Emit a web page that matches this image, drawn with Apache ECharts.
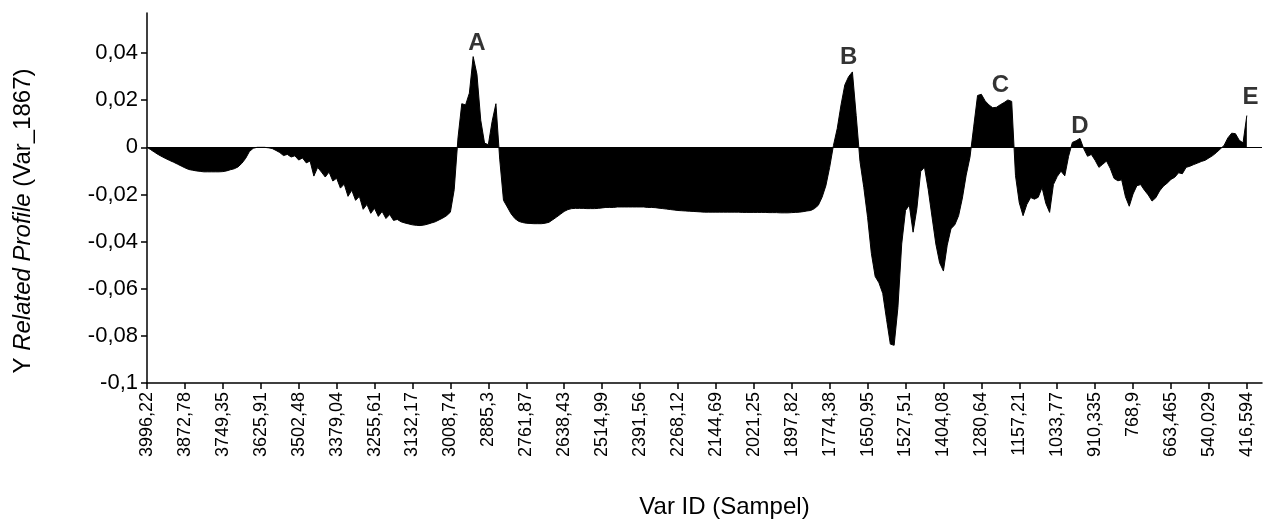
<!DOCTYPE html>
<html>
<head>
<meta charset="utf-8">
<script src="https://cdn.jsdelivr.net/npm/echarts@6/dist/echarts.min.js"></script>
<style>
  html, body { margin: 0; padding: 0; background: #fff; }
  #chart { width: 1266px; height: 519px; }
</style>
</head>
<body>
<div id="chart"></div>
<script>
// Tick labels of the x axis (one every 10 samples)
const xTickLabels = ['3996,22','3872,78','3749,35','3625,91','3502,48','3379,04','3255,61','3132,17','3008,74','2885,3',
  '2761,87','2638,43','2514,99','2391,56','2268,12','2144,69','2021,25','1897,82','1774,38','1650,95',
  '1527,51','1404,08','1280,64','1157,21','1033,77','910,335','768,9','663,465','540,029','416,594'];
const samplesPerTick = 10;

// Y related profile values, 10 samples per tick interval
const profile = [
  // 3996,22 -> 3625,91
  0, -0.001, -0.0021, -0.0031, -0.004, -0.0048, -0.0056, -0.0063, -0.0071, -0.0079,
  -0.0087, -0.0094, -0.0097, -0.01, -0.0102, -0.0104, -0.0104, -0.0104, -0.0104, -0.0104,
  -0.0103, -0.01, -0.0095, -0.0091, -0.0083, -0.0068, -0.0047, -0.0018, -0.0004, 0,
  // 3625,91 -> 3008,74
  0, 0, -0.0002, -0.0005, -0.0013, -0.0022, -0.0035, -0.003, -0.0041, -0.0036,
  -0.0054, -0.0045, -0.0066, -0.0058, -0.0122, -0.0085, -0.0105, -0.0126, -0.0105, -0.0143,
  -0.0131, -0.0173, -0.0156, -0.0208, -0.0182, -0.0225, -0.0208, -0.0263, -0.0242, -0.028,
  -0.0259, -0.0293, -0.0272, -0.0302, -0.0285, -0.031, -0.0306, -0.0316, -0.0321, -0.0325,
  -0.0329, -0.0331, -0.0332, -0.033, -0.0326, -0.0321, -0.0316, -0.0308, -0.03, -0.029,
  // 3008,74 -> 2761,87 (peak A)
  -0.0275, -0.018, 0.004, 0.0185, 0.018, 0.023, 0.0385, 0.031, 0.0115, 0.0018,
  0.0011, 0.011, 0.0185, -0.005, -0.0225, -0.0253, -0.0282, -0.0302, -0.0314, -0.0319,
  // 2761,87 -> 1774,38 (plateau)
  -0.0322, -0.0323, -0.0324, -0.0324, -0.0324, -0.0322, -0.0318, -0.0307, -0.0296, -0.0284,
  -0.0272, -0.0264, -0.026, -0.0259, -0.0259, -0.0259, -0.026, -0.026, -0.026, -0.0259,
  -0.0257, -0.0255, -0.0255, -0.0255, -0.0253, -0.0253, -0.0253, -0.0253, -0.0253, -0.0253,
  -0.0253, -0.0253, -0.0255, -0.0255, -0.0256, -0.0258, -0.026, -0.0262, -0.0264, -0.0266,
  -0.0268, -0.0269, -0.027, -0.0271, -0.0272, -0.0273, -0.0274, -0.0275, -0.0275, -0.0275,
  -0.0275, -0.0275, -0.0275, -0.0275, -0.0275, -0.0275, -0.0275, -0.0276, -0.0276, -0.0276,
  -0.0276, -0.0276, -0.0276, -0.0276, -0.0277, -0.0277, -0.0277, -0.0278, -0.0278, -0.0278,
  -0.0277, -0.0276, -0.0275, -0.0273, -0.027, -0.0268, -0.026, -0.0246, -0.0212, -0.0163,
  // 1774,38 -> 1280,64 (peak B and deep trough)
  -0.0085, 0.0008, 0.008, 0.018, 0.0265, 0.030, 0.032, 0.0135, -0.006, -0.017,
  -0.0297, -0.045, -0.0548, -0.0575, -0.062, -0.073, -0.0835, -0.084, -0.068, -0.041,
  -0.0268, -0.0245, -0.036, -0.026, -0.0103, -0.0084, -0.018, -0.0296, -0.041, -0.049,
  -0.0525, -0.0415, -0.0345, -0.0329, -0.029, -0.0215, -0.0118, -0.0042, 0.009, 0.022,
  // 1280,64 -> 910,335 (peak C, peak D)
  0.0225, 0.0197, 0.018, 0.0168, 0.017, 0.0181, 0.019, 0.0201, 0.0195, -0.012,
  -0.0235, -0.029, -0.0242, -0.0213, -0.022, -0.0212, -0.017, -0.0238, -0.0276, -0.0158,
  -0.0124, -0.0101, -0.0121, -0.0038, 0.0021, 0.0028, 0.0038, -0.0006, -0.0038, -0.003,
  // 910,335 -> 416,594 (peak E)
  -0.0055, -0.0085, -0.0072, -0.0058, -0.009, -0.0132, -0.0142, -0.0138, -0.021, -0.025,
  -0.0198, -0.0163, -0.0158, -0.0182, -0.0202, -0.0228, -0.0214, -0.0185, -0.0165, -0.0152,
  -0.0136, -0.0127, -0.0108, -0.0112, -0.0085, -0.008, -0.0073, -0.0067, -0.006, -0.0055,
  -0.0045, -0.0035, -0.0022, -0.0007, 0.0008, 0.004, 0.006, 0.0058, 0.003, 0.0019,
  0.0135,
  // axis continues a little past the last tick
  null, null, null, null
];

// Y axis ticks
const yTicks = [-0.1, -0.08, -0.06, -0.04, -0.02, 0, 0.02, 0.04];
const yMin = -0.1, yMax = 0.057;

// Peak annotations: name, sample index, label centre value
const peakNames = ['A', 'B', 'C', 'D', 'E'];
const peakIndex = [87, 185, 225, 246, 291];
const peakLabelY = [0.0439, 0.0381, 0.0261, 0.0091, 0.0212];

const categories = profile.map((_, i) => String(i));
const lastTickIdx = (xTickLabels.length - 1) * samplesPerTick;
const isTick = (i) => i % samplesPerTick === 0 && i <= lastTickIdx;

const FONT = 'Liberation Sans, Arial, sans-serif';
const chart = echarts.init(document.getElementById('chart'));
chart.setOption({
  animation: false,
  backgroundColor: '#fff',
  grid: { left: 147, right: 4, top: 13, bottom: 136, containLabel: false, outerBoundsMode: 'none' },
  xAxis: {
    type: 'category',
    data: categories,
    boundaryGap: false,
    axisLine: { show: true, onZero: false, lineStyle: { color: '#000', width: 1.5 } },
    axisTick: { show: true, interval: (i) => isTick(i), length: 6, lineStyle: { color: '#000', width: 1.5 } },
    axisLabel: {
      interval: (i) => isTick(i),
      rotate: 90,
      margin: 9,
      color: '#000',
      fontSize: 18,
      fontFamily: FONT,
      hideOverlap: false,
      formatter: (v, i) => isTick(i) ? xTickLabels[i / samplesPerTick] : ''
    },
    splitLine: { show: false },
    name: 'Var ID (Sampel)',
    nameLocation: 'middle',
    nameGap: 112,
    nameTextStyle: { color: '#000', fontSize: 24, fontFamily: FONT, padding: [0, 0, 0, 40] }
  },
  yAxis: {
    type: 'value',
    min: yMin,
    max: yMax,
    axisLine: { show: true, lineStyle: { color: '#000', width: 1.5 } },
    axisTick: { show: true, customValues: yTicks, length: 6, lineStyle: { color: '#000', width: 1.5 } },
    axisLabel: {
      customValues: yTicks,
      margin: 9,
      color: '#000',
      fontSize: 22,
      fontFamily: FONT,
      formatter: (v) => String(parseFloat(Number(v).toFixed(3))).replace('.', ',')
    },
    splitLine: { show: false },
    name: 'Y {i|Related Profile} (Var_1867)',
    nameLocation: 'middle',
    nameGap: 112,
    nameRotate: 90,
    nameTextStyle: {
      color: '#000', fontSize: 24, fontFamily: FONT, padding: [0, 46, 0, 0],
      rich: { i: { fontStyle: 'italic', fontSize: 24, fontFamily: FONT, color: '#000' } }
    }
  },
  series: [
    {
      type: 'line',
      data: profile,
      showSymbol: false,
      connectNulls: false,
      lineStyle: { color: '#000', width: 1 },
      itemStyle: { color: '#000' },
      areaStyle: { color: '#000', opacity: 1 },
      markLine: {
        silent: true,
        symbol: 'none',
        label: { show: false },
        lineStyle: { color: '#000', width: 1.2, type: 'solid' },
        data: [{ yAxis: 0 }]
      }
    },
    {
      type: 'scatter',
      symbolSize: 0,
      data: peakNames.map((n, k) => ({ name: n, value: [peakIndex[k], peakLabelY[k]] })),
      label: {
        show: true,
        position: 'inside',
        formatter: (p) => p.name,
        color: '#000',
        fontSize: 24,
        fontWeight: 'bold',
        fontFamily: FONT
      },
      silent: true
    }
  ]
});
</script>
</body>
</html>
